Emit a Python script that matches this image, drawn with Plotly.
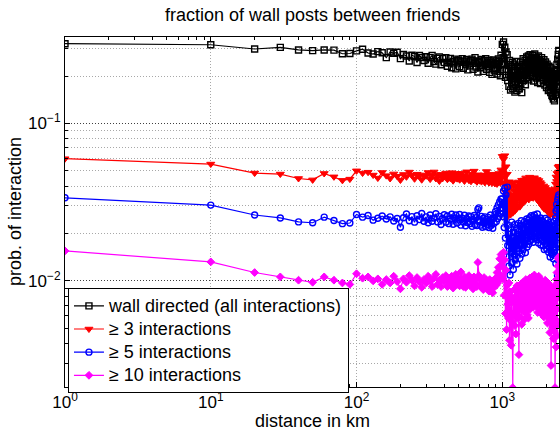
import plotly.graph_objects as go

# distance bins (km): first bin at 1 km, then every 10 km up to 2450 km
distance_km = [1] + list(range(10, 2451, 10))

# wall directed (all interactions)
wall_all = [
    0.321, 0.316, 0.297, 0.304, 0.293, 0.290, 0.293, 0.292, 0.277, 0.278,
    0.289, 0.296, 0.280, 0.276, 0.286, 0.281, 0.262, 0.284, 0.279, 0.283,
    0.258, 0.274, 0.268, 0.249, 0.271, 0.266, 0.244, 0.270, 0.262, 0.251,
    0.265, 0.241, 0.262, 0.270, 0.247, 0.238, 0.259, 0.264, 0.236, 0.258,
    0.244, 0.262, 0.231, 0.243, 0.259, 0.226, 0.248, 0.256, 0.222, 0.250,
    0.253, 0.229, 0.246, 0.258, 0.224, 0.249, 0.238, 0.255, 0.219, 0.246,
    0.232, 0.251, 0.256, 0.221, 0.245, 0.262, 0.228, 0.249, 0.212, 0.243,
    0.248, 0.226, 0.255, 0.233, 0.214, 0.250, 0.237, 0.258, 0.221, 0.241,
    0.229, 0.252, 0.211, 0.246, 0.236, 0.205, 0.244, 0.253, 0.218, 0.240,
    0.224, 0.249, 0.206, 0.238, 0.257, 0.214, 0.247, 0.201, 0.271, 0.236,
    0.318, 0.262, 0.329, 0.241, 0.305, 0.196, 0.284, 0.221, 0.273, 0.187,
    0.236, 0.172, 0.251, 0.198, 0.163, 0.229, 0.181, 0.244, 0.167, 0.212,
    0.193, 0.238, 0.158, 0.217, 0.184, 0.248, 0.162, 0.205, 0.231, 0.175,
    0.224, 0.166, 0.203, 0.245, 0.179, 0.214, 0.157, 0.236, 0.192, 0.258,
    0.187, 0.229, 0.201, 0.252, 0.176, 0.238, 0.209, 0.264, 0.195, 0.243,
    0.216, 0.268, 0.189, 0.251, 0.227, 0.273, 0.202, 0.246, 0.262, 0.211,
    0.257, 0.198, 0.271, 0.233, 0.186, 0.259, 0.219, 0.276, 0.208, 0.248,
    0.226, 0.263, 0.194, 0.251, 0.232, 0.182, 0.245, 0.268, 0.203, 0.239,
    0.255, 0.207, 0.236, 0.179, 0.248, 0.221, 0.262, 0.196, 0.231, 0.213,
    0.243, 0.188, 0.227, 0.254, 0.201, 0.236, 0.175, 0.219, 0.246, 0.192,
    0.228, 0.169, 0.211, 0.238, 0.183, 0.224, 0.197, 0.162, 0.215, 0.231,
    0.178, 0.209, 0.164, 0.226, 0.191, 0.157, 0.214, 0.172, 0.198, 0.151,
    0.186, 0.148, 0.203, 0.164, 0.143, 0.191, 0.156, 0.178, 0.139, 0.197,
    0.163, 0.208, 0.152, 0.184, 0.221, 0.158, 0.196, 0.237, 0.171, 0.214,
    0.256, 0.183, 0.274, 0.205, 0.291, 0.248,
]

# >= 3 interactions
ge3 = [
    0.0597, 0.0552, 0.0484, 0.0477, 0.0447, 0.0438, 0.0481, 0.0458, 0.0435, 0.0443,
    0.0500, 0.0484, 0.0490, 0.0470, 0.0450, 0.0488, 0.0466, 0.0447, 0.0478, 0.0462,
    0.0437, 0.0474, 0.0458, 0.0491, 0.0469, 0.0445, 0.0476, 0.0462, 0.0439, 0.0471,
    0.0465, 0.0488, 0.0443, 0.0469, 0.0492, 0.0447, 0.0470, 0.0431, 0.0475, 0.0448,
    0.0466, 0.0484, 0.0442, 0.0468, 0.0449, 0.0487, 0.0433, 0.0465, 0.0481, 0.0446,
    0.0463, 0.0439, 0.0482, 0.0448, 0.0467, 0.0431, 0.0461, 0.0493, 0.0450, 0.0436,
    0.0458, 0.0429, 0.0476, 0.0441, 0.0498, 0.0437, 0.0459, 0.0426, 0.0472, 0.0450,
    0.0433, 0.0468, 0.0427, 0.0465, 0.0436, 0.0471, 0.0422, 0.0452, 0.0495, 0.0434,
    0.0459, 0.0421, 0.0468, 0.0430, 0.0476, 0.0418, 0.0457, 0.0428, 0.0465, 0.0416,
    0.0451, 0.0472, 0.0413, 0.0456, 0.0425, 0.0481, 0.0439, 0.0420, 0.0507, 0.0452,
    0.0618, 0.0482, 0.0592, 0.0415, 0.0624, 0.0368, 0.0531, 0.0297, 0.0476, 0.0256,
    0.0389, 0.0281, 0.0426, 0.0312, 0.0264, 0.0398, 0.0295, 0.0352, 0.0271, 0.0417,
    0.0308, 0.0374, 0.0279, 0.0402, 0.0326, 0.0287, 0.0391, 0.0342, 0.0298, 0.0425,
    0.0331, 0.0389, 0.0296, 0.0418, 0.0352, 0.0307, 0.0436, 0.0338, 0.0395, 0.0316,
    0.0412, 0.0347, 0.0438, 0.0321, 0.0396, 0.0451, 0.0335, 0.0408, 0.0362, 0.0427,
    0.0358, 0.0441, 0.0329, 0.0402, 0.0456, 0.0346, 0.0419, 0.0381, 0.0437, 0.0339,
    0.0423, 0.0364, 0.0448, 0.0337, 0.0411, 0.0376, 0.0452, 0.0349, 0.0405, 0.0432,
    0.0356, 0.0419, 0.0333, 0.0441, 0.0372, 0.0326, 0.0408, 0.0361, 0.0434, 0.0318,
    0.0394, 0.0342, 0.0421, 0.0309, 0.0378, 0.0413, 0.0327, 0.0389, 0.0351, 0.0296,
    0.0372, 0.0318, 0.0401, 0.0343, 0.0287, 0.0365, 0.0329, 0.0392, 0.0301, 0.0357,
    0.0324, 0.0381, 0.0296, 0.0348, 0.0279, 0.0366, 0.0312, 0.0271, 0.0354, 0.0305,
    0.0341, 0.0286, 0.0359, 0.0263, 0.0327, 0.0298, 0.0372, 0.0281, 0.0335, 0.0268,
    0.0318, 0.0356, 0.0274, 0.0339, 0.0291, 0.0378, 0.0302, 0.0262, 0.0361, 0.0325,
    0.0384, 0.0297, 0.0412, 0.0336, 0.0457, 0.0312, 0.0428, 0.0369, 0.0481, 0.0352,
    0.0446, 0.0388, 0.0527, 0.0405, 0.0492, 0.0535,
]

# >= 5 interactions
ge5 = [
    0.0337, 0.0303, 0.0262, 0.0251, 0.0237, 0.0234, 0.0254, 0.0242, 0.0231, 0.0233,
    0.0264, 0.0254, 0.0260, 0.0243, 0.0250, 0.0258, 0.0247, 0.0255, 0.0240, 0.0249,
    0.0219, 0.0252, 0.0266, 0.0241, 0.0256, 0.0236, 0.0259, 0.0245, 0.0268, 0.0239,
    0.0255, 0.0234, 0.0262, 0.0239, 0.0251, 0.0267, 0.0237, 0.0257, 0.0228, 0.0249,
    0.0263, 0.0236, 0.0258, 0.0231, 0.0248, 0.0265, 0.0229, 0.0251, 0.0262, 0.0233,
    0.0247, 0.0264, 0.0226, 0.0250, 0.0237, 0.0261, 0.0224, 0.0248, 0.0235, 0.0258,
    0.0231, 0.0256, 0.0222, 0.0246, 0.0260, 0.0228, 0.0252, 0.0225, 0.0284, 0.0291,
    0.0238, 0.0226, 0.0257, 0.0219, 0.0249, 0.0232, 0.0255, 0.0221, 0.0246, 0.0229,
    0.0253, 0.0218, 0.0241, 0.0262, 0.0226, 0.0247, 0.0216, 0.0251, 0.0232, 0.0263,
    0.0276, 0.0238, 0.0291, 0.0249, 0.0304, 0.0257, 0.0318, 0.0268, 0.0331, 0.0289,
    0.0331, 0.0256, 0.0372, 0.0218, 0.0389, 0.0187, 0.0352, 0.0142, 0.0394, 0.0168,
    0.0226, 0.0124, 0.0198, 0.0109, 0.0214, 0.0152, 0.0236, 0.0131, 0.0189, 0.0118,
    0.0203, 0.0146, 0.0228, 0.0137, 0.0181, 0.0215, 0.0128, 0.0196, 0.0161, 0.0232,
    0.0154, 0.0207, 0.0139, 0.0224, 0.0172, 0.0241, 0.0148, 0.0199, 0.0226, 0.0158,
    0.0213, 0.0169, 0.0238, 0.0182, 0.0151, 0.0229, 0.0193, 0.0247, 0.0164, 0.0218,
    0.0187, 0.0243, 0.0171, 0.0226, 0.0252, 0.0179, 0.0236, 0.0198, 0.0259, 0.0184,
    0.0232, 0.0195, 0.0254, 0.0176, 0.0241, 0.0213, 0.0262, 0.0188, 0.0229, 0.0249,
    0.0204, 0.0251, 0.0183, 0.0237, 0.0266, 0.0192, 0.0228, 0.0174, 0.0245, 0.0211,
    0.0239, 0.0186, 0.0222, 0.0251, 0.0169, 0.0216, 0.0243, 0.0181, 0.0227, 0.0197,
    0.0218, 0.0167, 0.0235, 0.0191, 0.0158, 0.0224, 0.0203, 0.0249, 0.0172, 0.0209,
    0.0186, 0.0231, 0.0159, 0.0214, 0.0243, 0.0168, 0.0197, 0.0221, 0.0152, 0.0205,
    0.0228, 0.0163, 0.0194, 0.0142, 0.0217, 0.0176, 0.0236, 0.0151, 0.0189, 0.0212,
    0.0147, 0.0196, 0.0169, 0.0226, 0.0138, 0.0183, 0.0205, 0.0157, 0.0239, 0.0174,
    0.0212, 0.0164, 0.0251, 0.0129, 0.0278, 0.0196, 0.0306, 0.0152, 0.0287, 0.0108,
    0.0327, 0.0173, 0.0341, 0.0236, 0.0352, 0.0298,
]

# >= 10 interactions
ge10 = [
    0.0155, 0.0132, 0.0113, 0.0106, 0.0101, 0.0098, 0.0106, 0.0101, 0.0097, 0.0095,
    0.0111, 0.0104, 0.0106, 0.0100, 0.0103, 0.0095, 0.0102, 0.0097, 0.0107, 0.0099,
    0.0089, 0.0103, 0.0098, 0.0108, 0.0101, 0.0093, 0.0105, 0.0099, 0.0091, 0.0102,
    0.0097, 0.0107, 0.0100, 0.0092, 0.0104, 0.0110, 0.0095, 0.0101, 0.0092, 0.0105,
    0.0099, 0.0108, 0.0092, 0.0103, 0.0096, 0.0107, 0.0090, 0.0100, 0.0110, 0.0095,
    0.0104, 0.0093, 0.0114, 0.0098, 0.0092, 0.0106, 0.0091, 0.0102, 0.0097, 0.0108,
    0.0094, 0.0104, 0.0098, 0.0089, 0.0106, 0.0095, 0.0102, 0.0092, 0.0131, 0.0108,
    0.0095, 0.0103, 0.0091, 0.0100, 0.0088, 0.0105, 0.0096, 0.0090, 0.0101, 0.0093,
    0.0099, 0.0086, 0.0102, 0.0092, 0.0090, 0.0100, 0.0084, 0.0097, 0.0091, 0.0102,
    0.0104, 0.0094, 0.0113, 0.0097, 0.0122, 0.0101, 0.0138, 0.0109, 0.0147, 0.0124,
    0.0148, 0.0103, 0.0152, 0.0081, 0.0136, 0.0062, 0.0117, 0.0049, 0.0094, 0.0071,
    0.0058, 0.0097, 0.0042, 0.0085, 0.0063, 0.0039, 0.0079, 0.0055, 0.0021, 0.0074,
    0.0061, 0.0088, 0.0052, 0.0079, 0.0046, 0.0071, 0.0093, 0.0058, 0.0084, 0.0065,
    0.0034, 0.0076, 0.0059, 0.0089, 0.0067, 0.0096, 0.0053, 0.0082, 0.0071, 0.0098,
    0.0064, 0.0087, 0.0057, 0.0093, 0.0074, 0.0102, 0.0068, 0.0085, 0.0061, 0.0097,
    0.0079, 0.0058, 0.0092, 0.0071, 0.0104, 0.0066, 0.0088, 0.0099, 0.0073, 0.0091,
    0.0106, 0.0077, 0.0095, 0.0068, 0.0101, 0.0084, 0.0109, 0.0072, 0.0093, 0.0087,
    0.0098, 0.0069, 0.0104, 0.0081, 0.0092, 0.0063, 0.0099, 0.0076, 0.0107, 0.0083,
    0.0071, 0.0096, 0.0079, 0.0102, 0.0066, 0.0089, 0.0074, 0.0097, 0.0061, 0.0085,
    0.0092, 0.0068, 0.0087, 0.0059, 0.0095, 0.0073, 0.0081, 0.0101, 0.0064, 0.0078,
    0.0086, 0.0062, 0.0091, 0.0071, 0.0054, 0.0083, 0.0097, 0.0066, 0.0079, 0.0058,
    0.0075, 0.0089, 0.0047, 0.0081, 0.0063, 0.0092, 0.0029, 0.0072, 0.0085, 0.0056,
    0.0069, 0.0051, 0.0082, 0.0064, 0.0043, 0.0077, 0.0059, 0.0088, 0.0048, 0.0071,
    0.0021, 0.0084, 0.0057, 0.0095, 0.0038, 0.0102, 0.0066, 0.0113, 0.0045, 0.0091,
    0.0124, 0.0053, 0.0138, 0.0079, 0.0142, 0.0097,
]

series_names = [
    "wall directed (all interactions)",
    "\u2265 3 interactions",
    "\u2265 5 interactions",
    "\u2265 10 interactions",
]

x_tick_values = [1, 10, 100, 1000]
x_tick_labels = ["10<sup>0</sup>", "10<sup>1</sup>", "10<sup>2</sup>", "10<sup>3</sup>"]
y_tick_values = [0.01, 0.1]
y_tick_labels = ["10<sup>\u22122</sup>", "10<sup>\u22121</sup>"]

for s in (wall_all, ge3, ge5, ge10):
    assert len(s) == len(distance_km), len(s)

FONT = "Liberation Sans, Arial, sans-serif"
DOTS = "1px,2px"

styles = [
    dict(color="#000000", symbol="square-open", size=6, edge=1.4),
    dict(color="#ff0000", symbol="triangle-down", size=7, edge=1),
    dict(color="#0000ff", symbol="circle-open", size=6, edge=1.4),
    dict(color="#ff00ff", symbol="diamond", size=6, edge=1),
]

fig = go.Figure()
for name, ys, st in zip(series_names, (wall_all, ge3, ge5, ge10), styles):
    fig.add_trace(go.Scatter(
        x=distance_km, y=ys, mode="lines+markers",
        # legend rows are spaced by the legend font size; the label itself is drawn larger
        name='<span style="font-size:18px">' + name + "</span>",
        line=dict(color=st["color"], width=1.2),
        marker=dict(symbol=st["symbol"], size=st["size"], color=st["color"],
                    line=dict(color=st["color"], width=st["edge"])),
    ))

x_minor = [k * 10 ** e for e in range(0, 4) for k in range(2, 10)]
y_minor = [k * 10.0 ** e for e in (-3, -2, -1) for k in range(2, 10)]

axis_common = dict(
    type="log", ticks="inside", ticklen=5, tickcolor="black", tickwidth=1,
    showline=True, linecolor="black", linewidth=1, mirror="allticks",
    zeroline=False, tickmode="array",
    tickfont=dict(family=FONT, size=17, color="black"),
)

fig.update_xaxes(
    **axis_common, range=[0, 3.389],
    tickvals=x_tick_values, ticktext=x_tick_labels,
    showgrid=True, gridcolor="#a8a8a8", griddash=DOTS, gridwidth=1,
    minor=dict(tickmode="array", tickvals=x_minor, ticks="inside", ticklen=3,
               tickcolor="black", showgrid=False),
)
fig.update_yaxes(
    **axis_common, range=[-2.674, -0.451],
    tickvals=y_tick_values, ticktext=y_tick_labels,
    showgrid=True, gridcolor="#404040", griddash=DOTS, gridwidth=1,
    minor=dict(tickmode="array", tickvals=y_minor, ticks="inside", ticklen=3,
               tickcolor="black", showgrid=True, gridcolor="#a8a8a8",
               griddash=DOTS, gridwidth=1),
)

fig.update_layout(
    width=560, height=432,
    margin=dict(l=65, r=1, t=37, b=45),
    paper_bgcolor="white", plot_bgcolor="white",
    font=dict(family=FONT, size=18, color="black"),
    showlegend=True,
    legend=dict(
        x=0.006, y=0.282, xanchor="left", yanchor="top",
        bgcolor="white", bordercolor="black", borderwidth=1,
        font=dict(family=FONT, size=15.5, color="black"),
        itemwidth=30, tracegroupgap=0,
    ),
    annotations=[
        dict(text="fraction of wall posts between friends", xref="paper", yref="paper",
             x=0.5, y=1.0629, xanchor="center", yanchor="middle", showarrow=False,
             font=dict(family=FONT, size=18, color="black")),
        dict(text="distance in km", xref="paper", yref="paper",
             x=0.5, y=-0.097, xanchor="center", yanchor="middle", showarrow=False,
             font=dict(family=FONT, size=18, color="black")),
        dict(text="prob. of interaction", xref="paper", yref="paper",
             x=-0.101, y=0.5, xanchor="center", yanchor="middle", showarrow=False,
             textangle=-90, font=dict(family=FONT, size=18, color="black")),
    ],
)

fig.write_html("out.html")
